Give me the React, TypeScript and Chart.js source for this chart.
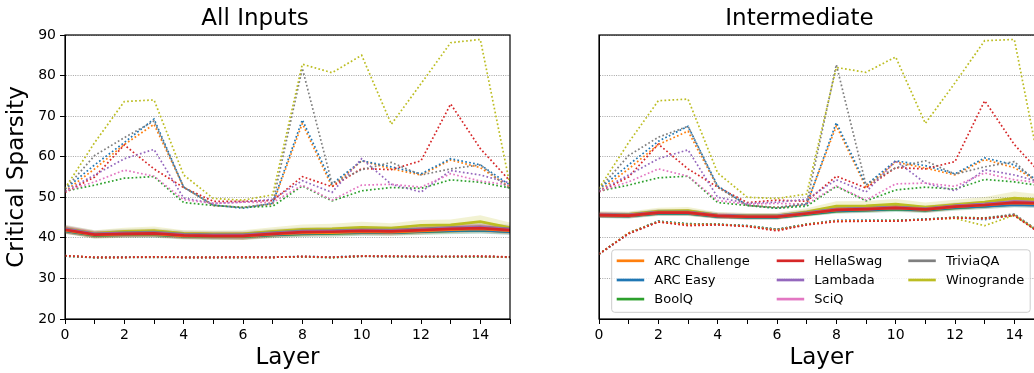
import { useEffect, useRef } from 'react';
import { Chart, registerables } from 'chart.js';

Chart.register(...registerables);

const FONT = '"DejaVu Sans", sans-serif';

// Layer indices on the x axis
const layers = [0, 1, 2, 3, 4, 5, 6, 7, 8, 9, 10, 11, 12, 13, 14, 15];
const yMin = 20;
const yMax = 90;
const yStep = 10;

const benchmarks = ['ARC Challenge', 'ARC Easy', 'BoolQ', 'HellaSwag', 'Lambada', 'SciQ', 'TriviaQA', 'Winogrande'];
const colors = ['#ff7f0e', '#1f77b4', '#2ca02c', '#d62728', '#9467bd', '#e377c2', '#7f7f7f', '#bcbd22'];

// ---- All Inputs ----
// upper (dotted) critical sparsity per benchmark
const allInputsPeak = [
  [51.5, 57.0, 63.0, 68.0, 52.5, 48.0, 47.5, 48.3, 68.2, 52.6, 59.0, 57.0, 55.5, 59.2, 57.3, 52.5],
  [52.0, 58.0, 63.5, 69.3, 52.5, 48.1, 47.3, 48.5, 69.1, 53.3, 59.0, 57.5, 55.8, 59.5, 58.0, 53.0],
  [51.5, 53.0, 54.7, 55.1, 48.7, 48.0, 47.5, 47.8, 52.8, 49.1, 51.6, 52.4, 52.2, 54.3, 53.7, 52.3],
  [51.2, 55.0, 62.9, 57.0, 52.4, 49.0, 49.0, 49.2, 55.1, 52.6, 57.1, 56.8, 59.0, 73.0, 62.0, 54.0],
  [51.5, 55.5, 59.5, 61.8, 49.8, 48.5, 48.8, 49.5, 54.1, 51.2, 59.5, 53.2, 51.3, 56.6, 55.5, 53.5],
  [51.5, 53.8, 56.7, 55.2, 49.4, 48.5, 48.8, 48.7, 53.0, 49.3, 53.0, 53.2, 52.5, 55.8, 54.0, 53.0],
  [52.0, 60.3, 64.7, 68.8, 52.5, 48.0, 47.5, 48.5, 81.8, 53.4, 56.8, 58.6, 55.5, 57.0, 58.0, 52.0],
  [52.2, 63.5, 73.6, 74.0, 55.5, 49.7, 49.3, 50.6, 82.8, 80.7, 85.0, 68.0, 78.0, 88.1, 88.9, 53.0],
];

// lower (dotted) critical sparsity per benchmark
const allInputsFloor = [
  [35.6, 35.2, 35.2, 35.3, 35.2, 35.2, 35.2, 35.2, 35.4, 35.2, 35.5, 35.4, 35.4, 35.4, 35.4, 35.3],
  [35.6, 35.2, 35.3, 35.3, 35.2, 35.2, 35.2, 35.3, 35.4, 35.3, 35.5, 35.4, 35.4, 35.4, 35.4, 35.3],
  [35.5, 35.1, 35.2, 35.2, 35.2, 35.2, 35.2, 35.2, 35.3, 35.1, 35.4, 35.4, 35.3, 35.3, 35.3, 35.2],
  [35.6, 35.2, 35.2, 35.3, 35.2, 35.2, 35.3, 35.2, 35.4, 35.2, 35.5, 35.5, 35.4, 35.4, 35.5, 35.3],
  [35.5, 35.2, 35.2, 35.3, 35.2, 35.2, 35.2, 35.2, 35.4, 35.2, 35.5, 35.4, 35.4, 35.4, 35.4, 35.3],
  [35.6, 35.1, 35.2, 35.2, 35.2, 35.2, 35.2, 35.2, 35.4, 35.2, 35.4, 35.4, 35.4, 35.4, 35.4, 35.3],
  [35.5, 35.2, 35.2, 35.3, 35.2, 35.2, 35.2, 35.2, 35.4, 35.3, 35.5, 35.4, 35.4, 35.4, 35.4, 35.3],
  [35.6, 35.2, 35.2, 35.3, 35.2, 35.2, 35.2, 35.2, 35.4, 35.2, 35.5, 35.4, 35.4, 35.4, 35.4, 35.3],
];

// mean critical sparsity (solid) per benchmark
const allInputsMean = [
  [41.9, 40.7, 40.9, 41.0, 40.5, 40.4, 40.4, 40.9, 41.2, 41.3, 41.5, 41.4, 41.7, 42.0, 42.2, 41.8],
  [41.8, 40.7, 40.9, 40.9, 40.5, 40.4, 40.4, 40.8, 41.1, 41.2, 41.4, 41.3, 41.6, 41.8, 41.9, 41.5],
  [41.8, 40.6, 40.8, 40.8, 40.4, 40.3, 40.3, 40.7, 41.0, 41.1, 41.3, 41.3, 41.5, 41.7, 41.9, 41.6],
  [42.0, 40.8, 41.0, 41.1, 40.6, 40.5, 40.5, 41.0, 41.4, 41.5, 41.7, 41.6, 41.9, 42.2, 42.4, 41.9],
  [42.1, 40.9, 41.1, 41.2, 40.7, 40.6, 40.6, 41.1, 41.5, 41.6, 41.8, 41.7, 42.0, 42.4, 42.6, 42.1],
  [42.0, 40.8, 41.0, 41.1, 40.6, 40.5, 40.5, 41.0, 41.4, 41.5, 41.7, 41.6, 41.9, 42.3, 42.5, 42.0],
  [42.2, 41.0, 41.3, 41.4, 40.9, 40.8, 40.8, 41.3, 41.7, 41.8, 42.0, 41.9, 42.2, 42.5, 42.7, 42.2],
  [42.2, 41.1, 41.6, 41.8, 41.1, 41.0, 41.0, 41.6, 42.1, 42.2, 42.6, 42.4, 43.1, 43.2, 44.0, 42.5],
];

// spread of the shaded band around each mean
const allInputsSpread = [
  [0.9, 0.8, 0.8, 0.8, 0.8, 0.8, 0.9, 0.8, 0.8, 0.8, 0.8, 0.8, 0.8, 0.8, 0.9, 0.9],
  [0.8, 0.7, 0.8, 0.8, 0.7, 0.8, 0.8, 0.8, 0.8, 0.8, 0.8, 0.7, 0.8, 0.8, 0.8, 0.8],
  [0.8, 0.8, 0.8, 0.8, 0.8, 0.8, 0.8, 0.8, 0.7, 0.8, 0.8, 0.8, 0.8, 0.8, 0.8, 0.8],
  [0.9, 0.8, 0.8, 0.9, 0.8, 0.8, 0.9, 0.8, 0.8, 0.8, 0.9, 0.8, 0.8, 0.9, 0.9, 0.9],
  [0.9, 0.8, 0.8, 0.8, 0.8, 0.8, 0.8, 0.8, 0.8, 0.8, 0.8, 0.8, 0.8, 0.9, 0.9, 0.9],
  [0.8, 0.8, 0.8, 0.8, 0.8, 0.8, 0.8, 0.8, 0.8, 0.8, 0.8, 0.8, 0.8, 0.8, 0.8, 0.8],
  [1.0, 0.9, 0.9, 0.9, 0.9, 0.9, 0.9, 0.9, 0.9, 0.9, 0.9, 0.9, 0.9, 0.9, 1.0, 1.0],
  [0.9, 0.8, 0.9, 1.0, 0.8, 0.8, 0.9, 1.0, 1.2, 1.3, 1.4, 1.2, 1.3, 1.3, 1.6, 1.3],
];

// ---- Intermediate ----
const intermediatePeak = [
  [51.5, 57.0, 63.0, 66.3, 52.5, 48.0, 47.5, 48.3, 67.6, 52.5, 58.7, 57.2, 55.5, 59.3, 57.3, 53.0],
  [52.0, 58.0, 63.8, 67.5, 52.8, 48.0, 47.3, 48.2, 68.4, 53.0, 59.0, 57.8, 55.8, 59.7, 58.0, 53.0],
  [51.5, 53.0, 54.8, 55.2, 48.7, 48.0, 47.3, 47.8, 52.7, 49.1, 51.8, 52.5, 52.0, 54.4, 53.8, 52.7],
  [51.3, 55.0, 63.1, 57.0, 52.5, 48.7, 49.3, 49.0, 55.2, 52.3, 57.3, 57.0, 58.8, 73.8, 63.0, 55.0],
  [51.5, 55.5, 59.5, 61.7, 50.0, 48.5, 48.8, 49.5, 54.3, 51.3, 59.0, 53.5, 51.6, 56.8, 55.5, 53.5],
  [51.5, 53.8, 57.0, 55.2, 49.2, 48.3, 48.5, 48.3, 52.8, 49.3, 53.3, 53.5, 52.7, 56.0, 54.3, 53.5],
  [52.0, 60.3, 64.8, 67.5, 52.5, 48.0, 47.5, 48.5, 82.7, 53.0, 57.3, 59.0, 55.7, 57.5, 58.8, 52.0],
  [52.2, 63.5, 73.8, 74.2, 56.0, 50.0, 49.7, 50.8, 82.0, 80.8, 84.6, 68.2, 78.2, 88.6, 88.9, 52.0],
];

const intermediateFloor = [
  [36.0, 41.2, 44.0, 43.3, 43.3, 42.9, 42.0, 43.3, 44.2, 44.2, 44.2, 44.5, 45.0, 44.7, 45.6, 40.6],
  [36.0, 41.1, 44.1, 43.4, 43.3, 43.0, 42.1, 43.3, 44.3, 44.3, 44.2, 44.6, 45.0, 44.5, 45.7, 40.5],
  [36.0, 41.2, 44.1, 43.5, 43.4, 43.0, 42.1, 43.4, 44.2, 44.3, 44.3, 44.6, 45.1, 44.9, 45.6, 40.8],
  [36.0, 41.0, 43.9, 43.0, 43.2, 42.8, 41.7, 43.2, 44.0, 44.1, 44.1, 44.5, 44.9, 44.8, 45.5, 40.4],
  [36.0, 41.1, 44.0, 43.3, 43.3, 42.9, 42.0, 43.3, 44.3, 44.2, 44.2, 44.5, 45.0, 44.8, 45.6, 40.6],
  [36.0, 41.1, 44.0, 43.2, 43.3, 42.9, 42.0, 43.3, 44.2, 44.2, 44.2, 44.5, 45.0, 44.8, 45.6, 40.6],
  [36.0, 41.2, 44.1, 43.4, 43.3, 42.9, 42.1, 43.3, 44.2, 44.2, 44.3, 44.6, 45.0, 44.9, 45.9, 40.7],
  [36.0, 41.1, 44.0, 43.3, 43.3, 42.9, 42.0, 43.3, 44.2, 44.2, 44.2, 44.5, 44.8, 43.0, 45.6, 40.5],
];

const intermediateMean = [
  [45.6, 45.5, 46.2, 46.2, 45.4, 45.2, 45.2, 46.0, 46.9, 47.1, 47.4, 47.0, 47.7, 48.1, 48.6, 48.4],
  [45.5, 45.4, 46.1, 46.1, 45.3, 45.1, 45.1, 45.9, 46.7, 46.9, 47.2, 46.9, 47.5, 47.8, 48.2, 48.0],
  [45.5, 45.4, 46.0, 46.0, 45.3, 45.1, 45.1, 45.8, 46.6, 46.8, 47.1, 46.8, 47.4, 47.8, 48.3, 48.1],
  [45.6, 45.5, 46.2, 46.2, 45.4, 45.2, 45.2, 46.0, 46.9, 47.1, 47.4, 47.0, 47.7, 48.1, 48.7, 48.5],
  [45.7, 45.6, 46.3, 46.3, 45.5, 45.3, 45.3, 46.1, 47.0, 47.2, 47.5, 47.1, 47.8, 48.3, 48.9, 48.7],
  [45.6, 45.5, 46.2, 46.2, 45.4, 45.2, 45.2, 46.0, 46.9, 47.1, 47.4, 47.0, 47.7, 48.2, 48.8, 48.6],
  [45.8, 45.7, 46.4, 46.4, 45.6, 45.4, 45.4, 46.2, 47.1, 47.3, 47.6, 47.2, 47.9, 48.3, 48.9, 48.7],
  [45.8, 45.8, 46.6, 46.7, 45.6, 45.4, 45.4, 46.4, 47.8, 47.9, 48.3, 47.6, 48.2, 48.8, 49.8, 49.3],
];

const intermediateSpread = [
  [0.6, 0.6, 0.6, 0.6, 0.6, 0.6, 0.6, 0.6, 0.7, 0.7, 0.7, 0.7, 0.7, 0.7, 0.8, 0.8],
  [0.6, 0.6, 0.6, 0.6, 0.6, 0.6, 0.6, 0.6, 0.7, 0.7, 0.7, 0.7, 0.7, 0.7, 0.7, 0.7],
  [0.6, 0.6, 0.6, 0.6, 0.6, 0.6, 0.6, 0.6, 0.6, 0.7, 0.7, 0.7, 0.7, 0.7, 0.7, 0.7],
  [0.7, 0.6, 0.6, 0.7, 0.6, 0.6, 0.6, 0.6, 0.7, 0.7, 0.7, 0.7, 0.7, 0.8, 0.8, 0.8],
  [0.6, 0.6, 0.6, 0.6, 0.6, 0.6, 0.6, 0.6, 0.7, 0.7, 0.7, 0.7, 0.7, 0.8, 0.8, 0.8],
  [0.6, 0.6, 0.6, 0.6, 0.6, 0.6, 0.6, 0.6, 0.7, 0.7, 0.7, 0.7, 0.7, 0.7, 0.7, 0.7],
  [0.7, 0.7, 0.7, 0.7, 0.7, 0.7, 0.7, 0.7, 0.8, 0.8, 0.8, 0.8, 0.8, 0.8, 0.8, 0.8],
  [0.7, 0.7, 0.8, 0.9, 0.7, 0.7, 0.7, 0.9, 1.2, 1.2, 1.3, 1.1, 1.2, 1.3, 1.6, 1.3],
];

function withAlpha(hex: string, a: number) {
  const n = parseInt(hex.slice(1), 16);
  return `rgba(${(n >> 16) & 255}, ${(n >> 8) & 255}, ${n & 255}, ${a})`;
}

function points(values: number[]) {
  return values.map((y, j) => ({ x: layers[j], y }));
}

function panelDatasets(peak: number[][], floor: number[][], mean: number[][], spread: number[][]) {
  const sets: any[] = [];
  benchmarks.forEach((name, i) => {
    const c = colors[i];
    const common = { pointRadius: 0, pointHoverRadius: 0, tension: 0 };
    // shaded band: upper edge fills down to the next (lower edge) dataset
    sets.push({
      ...common,
      label: `${name} upper`,
      data: points(mean[i].map((m, j) => m + spread[i][j])),
      borderColor: 'rgba(0,0,0,0)',
      borderWidth: 0,
      backgroundColor: withAlpha(c, 0.2),
      fill: '+1',
      order: 300 + i,
    });
    sets.push({
      ...common,
      label: `${name} lower`,
      data: points(mean[i].map((m, j) => m - spread[i][j])),
      borderColor: 'rgba(0,0,0,0)',
      borderWidth: 0,
      fill: false,
      order: 300 + i,
    });
    sets.push({
      ...common,
      label: `${name} max`,
      data: points(peak[i]),
      borderColor: c,
      borderWidth: 1.7,
      borderDash: [1.7, 2.3],
      borderCapStyle: 'butt',
      fill: false,
      order: 200 - i,
    });
    sets.push({
      ...common,
      label: `${name} min`,
      data: points(floor[i]),
      borderColor: c,
      borderWidth: 1.7,
      borderDash: [1.7, 2.3],
      borderCapStyle: 'butt',
      fill: false,
      order: name === 'HellaSwag' ? 90 : 100 + i,
    });
    sets.push({
      ...common,
      label: name,
      data: points(mean[i]),
      borderColor: c,
      borderWidth: 2.7,
      fill: false,
      order: name === 'HellaSwag' ? 0 : 10 + i,
    });
  });
  return sets;
}

// Black box around the plotting area
const framePlugin = {
  id: 'frame',
  afterDraw(chart: any) {
    const { ctx, chartArea: a } = chart;
    ctx.save();
    ctx.strokeStyle = '#000';
    ctx.lineWidth = 1.2;
    ctx.strokeRect(a.left, a.top, a.right - a.left, a.bottom - a.top);
    ctx.restore();
  },
};

// Three-column legend box in the lower-left of the plotting area
const legendPlugin = {
  id: 'boxLegend',
  afterDraw(chart: any) {
    const { ctx, chartArea: a } = chart;
    const boxX = a.left + 12.7;
    const boxW = 418.5;
    const boxH = 62.5;
    const boxY = a.bottom - 6.7 - boxH;
    ctx.save();
    ctx.beginPath();
    const r = 3;
    ctx.moveTo(boxX + r, boxY);
    ctx.arcTo(boxX + boxW, boxY, boxX + boxW, boxY + boxH, r);
    ctx.arcTo(boxX + boxW, boxY + boxH, boxX, boxY + boxH, r);
    ctx.arcTo(boxX, boxY + boxH, boxX, boxY, r);
    ctx.arcTo(boxX, boxY, boxX + boxW, boxY, r);
    ctx.closePath();
    ctx.fillStyle = 'rgba(255,255,255,0.8)';
    ctx.fill();
    ctx.strokeStyle = '#cccccc';
    ctx.lineWidth = 1;
    ctx.stroke();

    const colX = [5, 165, 296.6];
    const rowY = [11, 30.2, 49.3];
    ctx.font = `13px ${FONT}`;
    ctx.textBaseline = 'middle';
    ctx.textAlign = 'left';
    benchmarks.forEach((name, i) => {
      const col = Math.floor(i / 3);
      const row = i % 3;
      const x = boxX + colX[col];
      const y = boxY + rowY[row];
      ctx.strokeStyle = colors[i];
      ctx.lineWidth = 2.7;
      ctx.beginPath();
      ctx.moveTo(x, y);
      ctx.lineTo(x + 27.5, y);
      ctx.stroke();
      ctx.fillStyle = '#000';
      ctx.fillText(name, x + 37.6, y + 0.5);
    });
    ctx.restore();
  },
};

function makeConfig(title: string, datasets: any[], showYLabels: boolean, sidePad: number): any {
  return {
    type: 'line',
    data: { datasets },
    plugins: showYLabels ? [framePlugin] : [framePlugin, legendPlugin],
    options: {
      animation: false,
      responsive: false,
      parsing: true,
      layout: { padding: { left: 0, right: sidePad, top: 0, bottom: 0 } },
      plugins: {
        legend: { display: false },
        tooltip: { enabled: false },
        title: {
          display: true,
          text: title,
          color: '#000',
          font: { family: FONT, size: 23, weight: 'normal' },
          padding: { top: 5.5, bottom: 1.9 },
        },
      },
      scales: {
        x: {
          type: 'linear',
          min: layers[0],
          max: layers[layers.length - 1],
          afterFit: (s: any) => { s.height = 54; },
          ticks: {
            stepSize: 1,
            autoSkip: false,
            maxRotation: 0,
            color: '#000',
            padding: 3,
            font: { family: FONT, size: 14 },
            callback: (v: number) => (v % 2 === 0 ? String(v) : ''),
          },
          grid: { display: true, drawOnChartArea: false, drawTicks: true, tickLength: 5, tickColor: '#000', tickWidth: 1 },
          border: { display: true, color: '#000', width: 1 },
          title: {
            display: true,
            text: 'Layer',
            color: '#000',
            font: { family: FONT, size: 23, weight: 'normal' },
            padding: { top: 0, bottom: 1.5 },
          },
        },
        y: {
          type: 'linear',
          min: yMin,
          max: yMax,
          afterFit: (s: any) => { s.width = sidePad; },
          ticks: {
            display: showYLabels,
            stepSize: yStep,
            color: '#000',
            padding: 4,
            font: { family: FONT, size: 14 },
          },
          grid: {
            display: true,
            drawOnChartArea: true,
            drawTicks: showYLabels,
            tickLength: 5,
            tickColor: '#000',
            tickWidth: 1,
            color: '#9a9a9a',
            lineWidth: 0.9,
          },
          border: { display: true, color: '#000', width: 1, dash: [1, 1.3] },
          title: {
            display: showYLabels,
            text: 'Critical Sparsity',
            color: '#000',
            font: { family: FONT, size: 23, weight: 'normal' },
            padding: { top: 3.5, bottom: 0 },
          },
        },
      },
    },
  };
}

export default function App() {
  const leftRef = useRef<HTMLCanvasElement>(null);
  const rightRef = useRef<HTMLCanvasElement>(null);

  useEffect(() => {
    const left = new Chart(
      leftRef.current as HTMLCanvasElement,
      makeConfig('All Inputs', panelDatasets(allInputsPeak, allInputsFloor, allInputsMean, allInputsSpread), true, 65)
    );
    const right = new Chart(
      rightRef.current as HTMLCanvasElement,
      makeConfig('Intermediate', panelDatasets(intermediatePeak, intermediateFloor, intermediateMean, intermediateSpread), false, 44)
    );
    return () => {
      left.destroy();
      right.destroy();
    };
  }, []);

  return (
    <div style={{ position: 'fixed', left: 0, top: 0, width: 1034, height: 373, overflow: 'hidden', background: '#fff' }}>
      <canvas ref={leftRef} width={575} height={373} style={{ position: 'absolute', left: 0, top: 0 }} />
      <canvas ref={rightRef} width={533} height={373} style={{ position: 'absolute', left: 555, top: 0 }} />
    </div>
  );
}
